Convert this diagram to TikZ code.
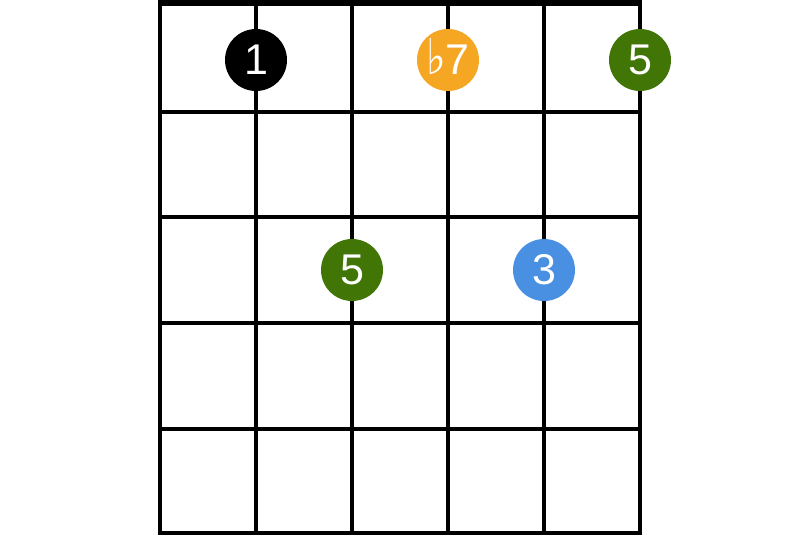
\documentclass[tikz,border=0pt]{standalone}
\usepackage{fontspec}
\setmainfont{Liberation Sans}
\newfontfamily\flatfont{DejaVu Sans}
\usepackage{xcolor}
\usepackage{graphicx}
\usetikzlibrary{positioning}

\definecolor{rootblack}{HTML}{000000}
\definecolor{seventhorange}{HTML}{F5A623}
\definecolor{fifthgreen}{HTML}{417505}
\definecolor{thirdblue}{HTML}{4A90E2}

\begin{document}
\begin{tikzpicture}[
  x=1pt, y=-1pt,
  fret/.style={line width=4pt, line cap=rect},
  nut/.style={line width=7pt},
  dot/.style={circle, inner sep=0pt, minimum size=62pt, text=white,
    font=\fontsize{43}{43}\selectfont},
]
 \useasboundingbox (0,0) rectangle (800,545);

 % ---- strings ----
 \draw[fret] (160,3) -- (160,533);
 \draw[fret] (256,3) -- (256,533);
 \draw[fret] (352,3) -- (352,533);
 \draw[fret] (448,3) -- (448,533);
 \draw[fret] (544,3) -- (544,533);
 \draw[fret] (640,3) -- (640,533);

 % ---- nut and frets ----
 \draw[nut] (158,3) -- (642,3);
 \draw[fret] (160,112) -- (640,112);
 \draw[fret] (160,217) -- (640,217);
 \draw[fret] (160,323) -- (640,323);
 \draw[fret] (160,429) -- (640,429);
 \draw[fret] (160,533) -- (640,533);

 % ---- chord tones ----
 \node[dot, fill=rootblack] (root) at (256,60) {1};
 \node[dot, fill=seventhorange] (flatseven) at (448,60)
   {\smash{\scalebox{1.1}[1.3]{\flatfont\bfseries\fontsize{38}{38}\selectfont ♭}}7};
 \node[dot, fill=fifthgreen] (fifthtop) at (640,60) {5};
 \node[dot, fill=fifthgreen] (fifthlow) at (352,270) {5};
 \node[dot, fill=thirdblue] (third) at (544,270) {3};

\end{tikzpicture}
\end{document}
